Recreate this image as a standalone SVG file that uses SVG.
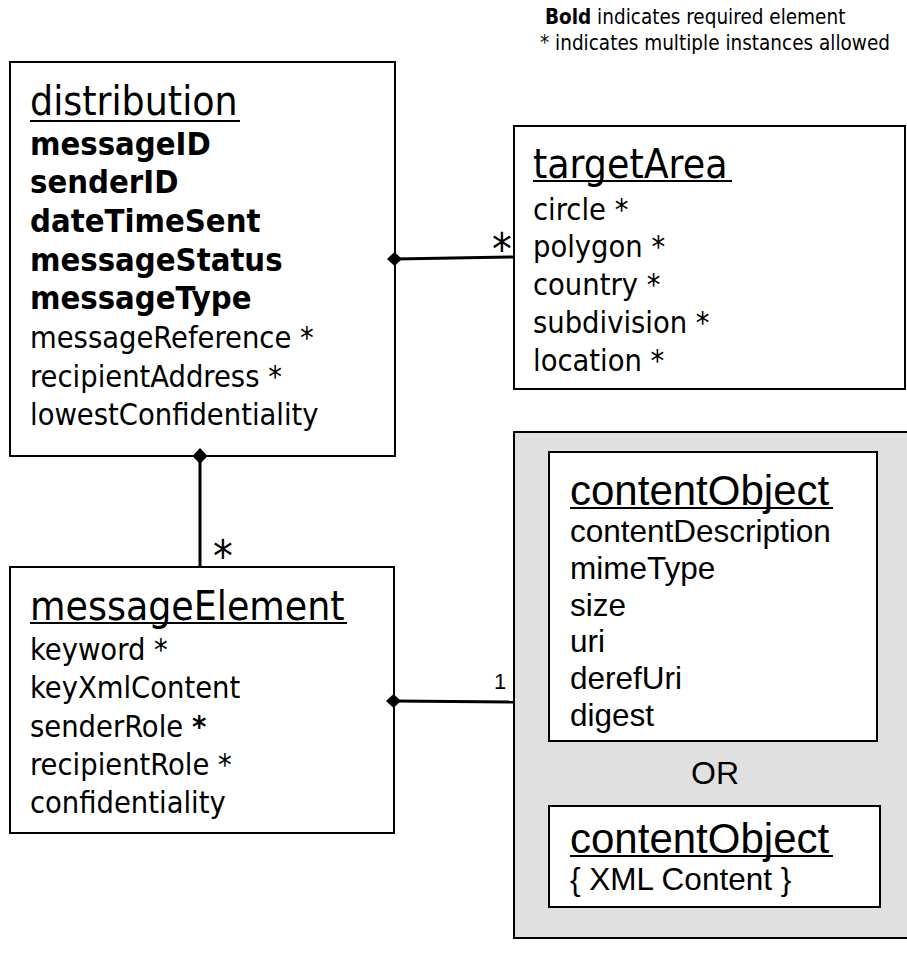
<svg xmlns="http://www.w3.org/2000/svg" width="907" height="971" viewBox="0 0 907 971">
<style>
.box{fill:#fff;stroke:#000;stroke-width:2}
.t{font-family:"DejaVu Sans Condensed","DejaVu Sans",sans-serif;fill:#000}
.title{font-size:40.5px}
.item{font-size:30.5px}
.b{font-weight:bold;font-size:32.5px}
.a{font-family:"Liberation Sans",Arial,sans-serif;fill:#000}
.ul{stroke:#000;stroke-width:2.2}
.conn{stroke:#000;stroke-width:3;fill:none}
.star{font-size:44px}
.leg{font-size:20.5px}
</style>
<rect width="907" height="971" fill="#fff"/>
<g id="legend">
<text class="t leg" x="545" y="24"><tspan font-weight="bold">Bold</tspan> indicates required element</text>
<text class="t leg" x="540" y="50">* indicates multiple instances allowed</text>
</g>
<g id="distribution">
<rect class="box" x="10" y="62" width="385" height="394"/>
<text class="t title" x="30" y="115">distribution</text>
<line class="ul" x1="30" y1="121" x2="240" y2="121"/>
<text class="t b" x="30" y="155">messageID</text>
<text class="t b" x="30" y="193">senderID</text>
<text class="t b" x="30" y="232">dateTimeSent</text>
<text class="t b" x="30" y="271">messageStatus</text>
<text class="t b" x="30" y="309">messageType</text>
<text class="t item" x="30" y="348">messageReference *</text>
<text class="t item" x="30" y="387">recipientAddress *</text>
<text class="t item" x="30" y="425">lowestConfidentiality</text>
</g>
<g id="targetArea">
<rect class="box" x="514" y="126" width="391" height="263"/>
<text class="t title" x="533" y="178">targetArea</text>
<line class="ul" x1="533" y1="181" x2="732" y2="181"/>
<text class="t item" x="533" y="220">circle *</text>
<text class="t item" x="533" y="257">polygon *</text>
<text class="t item" x="533" y="295">country *</text>
<text class="t item" x="533" y="333">subdivision *</text>
<text class="t item" x="533" y="371">location *</text>
</g>
<g id="messageElement">
<rect class="box" x="10" y="567" width="384" height="266"/>
<text class="t title" x="30" y="620">messageElement</text>
<line class="ul" x1="30" y1="623" x2="347" y2="623"/>
<text class="t item" x="30" y="660">keyword *</text>
<text class="t item" x="30" y="698">keyXmlContent</text>
<text class="t item" x="30" y="737">senderRole <tspan font-weight="bold">*</tspan></text>
<text class="t item" x="30" y="775">recipientRole *</text>
<text class="t item" x="30" y="813">confidentiality</text>
</g>
<g id="contentChoice">
<rect x="514" y="432" width="400" height="506" fill="#e0e0e0" stroke="#000" stroke-width="2"/>
<g id="contentObject1">
<rect class="box" x="549" y="452" width="328" height="289"/>
<text class="a" x="570" y="505" font-size="42px">contentObject</text>
<line class="ul" x1="570" y1="508" x2="833" y2="508"/>
<text class="a" x="570" y="542" font-size="31.5px">contentDescription</text>
<text class="a" x="570" y="579" font-size="31.5px">mimeType</text>
<text class="a" x="570" y="616" font-size="31.5px">size</text>
<text class="a" x="570" y="652" font-size="31.5px">uri</text>
<text class="a" x="570" y="689" font-size="31.5px">derefUri</text>
<text class="a" x="570" y="726" font-size="31.5px">digest</text>
</g>
<text class="a" x="715" y="784" font-size="32px" text-anchor="middle">OR</text>
<g id="contentObject2">
<rect class="box" x="549" y="806" width="331" height="101"/>
<text class="a" x="570" y="853" font-size="42px">contentObject</text>
<line class="ul" x1="570" y1="856" x2="833" y2="856"/>
<text class="a" x="570" y="890" font-size="31.5px">{ XML Content }</text>
</g>
</g>
<g id="connectors">
<line class="conn" x1="395" y1="259" x2="514" y2="257"/>
<polygon points="387,259 394.5,252 402,259 394.5,266"/>
<text class="t star" x="502" y="265" text-anchor="middle">*</text>
<line class="conn" x1="200" y1="456" x2="200" y2="567"/>
<polygon points="200,448 207.5,456 200,464 192.5,456"/>
<text class="t star" x="223" y="572" text-anchor="middle">*</text>
<line class="conn" x1="394" y1="701" x2="514" y2="702"/>
<polygon points="386,701 393.5,694 401,701 393.5,708"/>
<text class="a" x="500" y="689" font-size="22px" text-anchor="middle">1</text>
</g>
</svg>
